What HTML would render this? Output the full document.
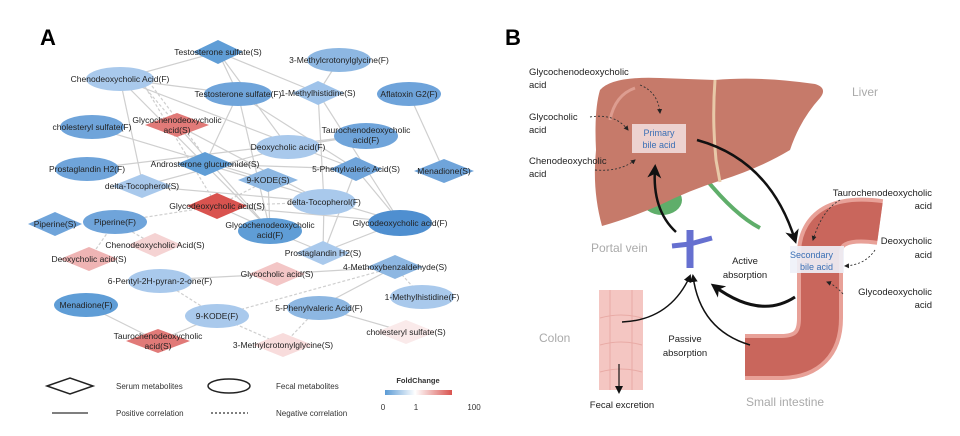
<!DOCTYPE html>
<html><head><meta charset="utf-8"><style>
html,body{margin:0;padding:0;background:#fff;}
svg{display:block;font-family:"Liberation Sans",sans-serif;}
</style></head><body>
<svg width="960" height="436" viewBox="0 0 960 436" xmlns="http://www.w3.org/2000/svg">
<defs>
<linearGradient id="fc" x1="0" x2="1"><stop offset="0" stop-color="#5b9bd5"/><stop offset="0.45" stop-color="#ffffff"/><stop offset="1" stop-color="#d9534f"/></linearGradient>
<marker id="ah" markerWidth="8" markerHeight="8" refX="6" refY="4" orient="auto" markerUnits="userSpaceOnUse"><path d="M0,0 L8,4 L0,8 Z" fill="#111"/></marker>
<marker id="ahb" markerWidth="14" markerHeight="14" refX="10" refY="7" orient="auto" markerUnits="userSpaceOnUse"><path d="M0,0 L14,7 L0,14 L4,7 Z" fill="#111"/></marker>
<marker id="ahs" markerWidth="5" markerHeight="5" refX="4" refY="2.5" orient="auto" markerUnits="userSpaceOnUse"><path d="M0,0 L5,2.5 L0,5 Z" fill="#222"/></marker>
</defs>
<text x="40" y="45" font-size="22" font-weight="bold">A</text>
<text x="505" y="45" font-size="22" font-weight="bold">B</text>

<g stroke="#cfcfcf" stroke-width="1.2" fill="none">
<path d="M120 79 L218 52 L318 93 L339 60"/>
<path d="M120 79 L238 94 M120 79 L356 169 M120 79 L143 186 M120 79 L270 230"/>
<path d="M218 52 L238 94 M218 52 L288 147 M238 94 L205 164 M238 94 L270 230 M238 94 L356 169"/>
<path d="M318 93 L324 202 M318 93 L400 222 M409 94 L444 171"/>
<path d="M92 127 L268 180 M87 169 L366 135 M142 186 L288 147 M142 186 L324 202"/>
<path d="M177 125 L270 230 M177 125 L324 202 M205 164 L356 169 M205 164 L400 222"/>
<path d="M217 206 L400 222 M217 206 L270 230 M356 169 L324 252 M356 169 L400 222 M268 180 L270 230"/>
<path d="M324 202 L323 252 L400 222 M270 230 L323 252 M160 280 L277 274 L395 267 M395 267 L319 307"/>
<path d="M86 305 L158 341 L217 316 M319 307 L406 332 M366 135 L288 147"/>
</g>
<g stroke="#cfcfcf" stroke-width="1.2" fill="none" stroke-dasharray="3,2">
<path d="M130 70 L177 125 M135 70 L217 206 M140 70 L200 150 M115 222 L217 206 M115 222 L89 259 M115 222 L155 245"/>
<path d="M217 206 L268 180 M217 206 L324 202 M160 280 L217 316 M217 316 L395 267 M217 316 L283 345 L319 307 M395 267 L422 297"/>
</g>

<g font-size="8.5" fill="#222" text-anchor="middle">
<path d="M218 40 L243 52 L218 64 L193 52 Z" fill="#5f9dd6"/><text x="218" y="55">Testosterone sulfate(S)</text>
<ellipse cx="339" cy="60" rx="32" ry="12" fill="#8db7e2"/><text x="339" y="63">3-Methylcrotonylglycine(F)</text>
<ellipse cx="120" cy="79" rx="34" ry="12" fill="#a9c9ec"/><text x="120" y="82">Chenodeoxycholic Acid(F)</text>
<ellipse cx="238" cy="94" rx="34" ry="12" fill="#6fa4da"/><text x="238" y="97">Testosterone sulfate(F)</text>
<path d="M318 81 L344 93 L318 105 L292 93 Z" fill="#9fc3ea"/><text x="318" y="96">1-Methylhistidine(S)</text>
<ellipse cx="409" cy="94" rx="32" ry="12" fill="#6ea3da"/><text x="409" y="97">Aflatoxin G2(F)</text>
<path d="M177 113 L209 125 L177 137 L145 125 Z" fill="#e17a78"/><text x="177" y="123">Glycochenodeoxycholic</text><text x="177" y="133">acid(S)</text>
<ellipse cx="92" cy="127" rx="32" ry="12" fill="#6fa4da"/><text x="92" y="130">cholesteryl sulfate(F)</text>
<ellipse cx="366" cy="136" rx="32" ry="13" fill="#6fa4da"/><text x="366" y="133">Taurochenodeoxycholic</text><text x="366" y="143">acid(F)</text>
<ellipse cx="288" cy="147" rx="32" ry="12" fill="#a9c9ec"/><text x="288" y="150">Deoxycholic acid(F)</text>
<path d="M205 152 L233 164 L205 176 L177 164 Z" fill="#5f9dd6"/><text x="205" y="167">Androsterone glucuronide(S)</text>
<ellipse cx="87" cy="169" rx="32" ry="12" fill="#6fa4da"/><text x="87" y="172">Prostaglandin H2(F)</text>
<path d="M356 157 L382 169 L356 181 L330 169 Z" fill="#6fa4da"/><text x="356" y="172">5-Phenylvaleric Acid(S)</text>
<path d="M444 159 L474 171 L444 183 L414 171 Z" fill="#6fa4da"/><text x="444" y="174">Menadione(S)</text>
<path d="M268 168 L298 180 L268 192 L238 180 Z" fill="#8db7e2"/><text x="268" y="183">9-KODE(S)</text>
<path d="M142 174 L172 186 L142 198 L112 186 Z" fill="#a9c9ec"/><text x="142" y="189">delta-Tocopherol(S)</text>
<ellipse cx="324" cy="202" rx="32" ry="13" fill="#a9c9ec"/><text x="324" y="205">delta-Tocopherol(F)</text>
<path d="M217 193 L247 206 L217 219 L187 206 Z" fill="#d9534f"/><text x="217" y="209">Glycodeoxycholic acid(S)</text>
<path d="M55 212 L82 224 L55 236 L28 224 Z" fill="#6fa4da"/><text x="55" y="227">Piperine(S)</text>
<ellipse cx="115" cy="222" rx="32" ry="12" fill="#6fa4da"/><text x="115" y="225">Piperine(F)</text>
<ellipse cx="270" cy="231" rx="32" ry="13" fill="#5f9dd6"/><text x="270" y="228">Glycochenodeoxycholic</text><text x="270" y="238">acid(F)</text>
<ellipse cx="400" cy="223" rx="32" ry="13" fill="#4f8fd0"/><text x="400" y="226">Glycodeoxycholic acid(F)</text>
<path d="M155 233 L182 245 L155 257 L128 245 Z" fill="#f5d3d3"/><text x="155" y="248">Chenodeoxycholic Acid(S)</text>
<path d="M89 247 L118 259 L89 271 L60 259 Z" fill="#efb4b4"/><text x="89" y="262">Deoxycholic acid(S)</text>
<path d="M323 241 L350 253 L323 265 L296 253 Z" fill="#a9c9ec"/><text x="323" y="256">Prostaglandin H2(S)</text>
<path d="M277 262 L305 274 L277 286 L249 274 Z" fill="#f3c6c6"/><text x="277" y="277">Glycocholic acid(S)</text>
<path d="M395 255 L423 267 L395 279 L367 267 Z" fill="#8db7e2"/><text x="395" y="270">4-Methoxybenzaldehyde(S)</text>
<ellipse cx="160" cy="281" rx="32" ry="12" fill="#a9c9ec"/><text x="160" y="284">6-Pentyl-2H-pyran-2-one(F)</text>
<ellipse cx="422" cy="297" rx="32" ry="12" fill="#a9c9ec"/><text x="422" y="300">1-Methylhistidine(F)</text>
<ellipse cx="86" cy="305" rx="32" ry="12" fill="#5f9dd6"/><text x="86" y="308">Menadione(F)</text>
<ellipse cx="319" cy="308" rx="32" ry="12" fill="#8db7e2"/><text x="319" y="311">5-Phenylvaleric Acid(F)</text>
<ellipse cx="217" cy="316" rx="32" ry="12" fill="#a9c9ec"/><text x="217" y="319">9-KODE(F)</text>
<path d="M406 320 L436 332 L406 344 L376 332 Z" fill="#faeaea"/><text x="406" y="335">cholesteryl sulfate(S)</text>
<path d="M158 329 L190 341 L158 353 L126 341 Z" fill="#e17a78"/><text x="158" y="339">Taurochenodeoxycholic</text><text x="158" y="349">acid(S)</text>
<path d="M283 333 L313 345 L283 357 L253 345 Z" fill="#f8dcdc"/><text x="283" y="348">3-Methylcrotonylglycine(S)</text>
</g>

<g font-size="8" fill="#333">
<path d="M47 386 L70 378 L93 386 L70 394 Z" fill="none" stroke="#222" stroke-width="1.5"/>
<text x="116" y="389">Serum metabolites</text>
<ellipse cx="229" cy="386" rx="21" ry="7" fill="none" stroke="#222" stroke-width="1.5"/>
<text x="276" y="389">Fecal metabolites</text>
<line x1="52" y1="413" x2="88" y2="413" stroke="#333" stroke-width="1.2"/>
<text x="116" y="416">Positive correlation</text>
<line x1="211" y1="413" x2="248" y2="413" stroke="#333" stroke-width="1.2" stroke-dasharray="2,2"/>
<text x="276" y="416">Negative correlation</text>
<text x="418" y="383" font-weight="bold" text-anchor="middle" font-size="7.5">FoldChange</text>
<rect x="385" y="390" width="67" height="5" fill="url(#fc)"/>
<text x="383" y="410" text-anchor="middle">0</text><text x="416" y="410" text-anchor="middle">1</text><text x="474" y="410" text-anchor="middle">100</text>
</g>

<ellipse cx="662" cy="200" rx="20" ry="15" fill="#5fae6a"/>
<path d="M705 178 Q735 215 760 228" stroke="#5fae6a" stroke-width="4" fill="none"/>
<path d="M600 90 Q612 76 660 78 L715 80 Q760 76 815 84 Q828 88 820 98 Q800 120 790 150 Q760 168 722 180 Q690 190 660 205 Q630 218 602 226 Q592 190 596 150 Q594 110 600 90 Z" fill="#c67a6a"/>
<path d="M715 80 Q712 120 716 160 L720 182" stroke="#e8c9a8" stroke-width="3" fill="none"/>
<path d="M610 120 Q615 95 635 88" stroke="#dd9d90" stroke-width="3" fill="none"/>
<rect x="632" y="124" width="54" height="29" fill="#f1dcdc" opacity="0.9"/>
<g font-size="9" fill="#3a6fb5" text-anchor="middle"><text x="659" y="136">Primary</text><text x="659" y="148">bile acid</text></g>

<path d="M880 222 Q822 214 820 252 L820 318 Q820 356 782 357 L745 357" stroke="#e8a198" stroke-width="46" fill="none"/>
<path d="M880 222 Q822 214 820 252 L820 318 Q820 356 782 357 L745 357" stroke="#c9665c" stroke-width="38" fill="none"/>
<rect x="790" y="246" width="54" height="27" fill="#eef1f8" opacity="0.9"/>
<g font-size="9" fill="#3a6fb5"><text x="790" y="258">Secondary</text><text x="800" y="270">bile acid</text></g>

<rect x="599" y="290" width="44" height="100" fill="#f4c6c2"/>
<g stroke="#e8aaa5" stroke-width="1" fill="none"><path d="M600 318 Q621 312 642 318 M600 345 Q621 339 642 345 M600 372 Q621 366 642 372 M610 290 L610 390 M632 290 L632 390"/></g>

<path d="M690 230 L690 268" stroke="#6670d0" stroke-width="7"/>
<path d="M672 246 L690 244 L712 238" stroke="#6670d0" stroke-width="5" fill="none"/>

<g fill="none" stroke="#111">
<path d="M697 140 Q770 160 795 240" stroke-width="2.5" marker-end="url(#ahb)"/>
<path d="M676 232 Q652 210 655 168" stroke-width="2.5" marker-end="url(#ahb)"/>
<path d="M795 297 Q760 320 714 286" stroke-width="3" marker-end="url(#ahb)"/>
<path d="M622 322 Q670 320 690 276" stroke-width="1.5" marker-end="url(#ah)"/>
<path d="M750 345 Q700 330 693 276" stroke-width="1.5" marker-end="url(#ah)"/>
<path d="M619 364 L619 392" stroke-width="1.2" marker-end="url(#ah)"/>
</g>
<g fill="none" stroke="#333" stroke-width="0.9" stroke-dasharray="2,2">
<path d="M640 85 Q658 92 660 113" marker-end="url(#ahs)"/>
<path d="M590 117 Q615 113 628 130" marker-end="url(#ahs)"/>
<path d="M595 170 Q620 172 635 160" marker-end="url(#ahs)"/>
<path d="M840 200 Q822 210 813 240" marker-end="url(#ahs)"/>
<path d="M875 250 Q865 265 845 266" marker-end="url(#ahs)"/>
<path d="M843 294 Q835 285 827 282" marker-end="url(#ahs)"/>
</g>

<g font-size="9.5" fill="#222">
<text x="529" y="75">Glycochenodeoxycholic</text><text x="529" y="88">acid</text>
<text x="529" y="120">Glycocholic</text><text x="529" y="133">acid</text>
<text x="529" y="164">Chenodeoxycholic</text><text x="529" y="177">acid</text>
<g text-anchor="end">
<text x="932" y="196">Taurochenodeoxycholic</text><text x="932" y="209">acid</text>
<text x="932" y="244">Deoxycholic</text><text x="932" y="258">acid</text>
<text x="932" y="295">Glycodeoxycholic</text><text x="932" y="308">acid</text>
</g>
<g text-anchor="middle">
<text x="745" y="264">Active</text><text x="745" y="278">absorption</text>
<text x="685" y="342">Passive</text><text x="685" y="356">absorption</text>
<text x="622" y="408">Fecal excretion</text>
</g>
</g>
<g font-size="12" fill="#aaa">
<text x="852" y="96">Liver</text>
<text x="591" y="252">Portal vein</text>
<text x="539" y="342">Colon</text>
<text x="746" y="406">Small intestine</text>
</g>
</svg>
</body></html>
